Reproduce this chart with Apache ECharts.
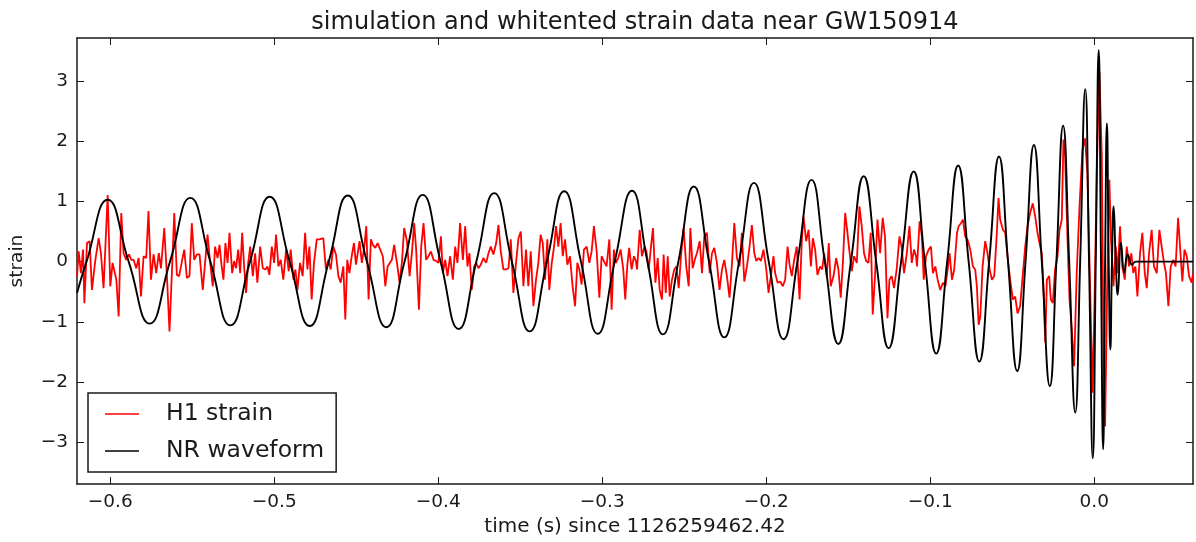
<!DOCTYPE html>
<html>
<head>
<meta charset="utf-8">
<script src="https://cdn.jsdelivr.net/npm/echarts@6/dist/echarts.min.js"></script>
<style>
html,body{margin:0;padding:0;background:#fff;}
#chart{width:1196px;height:542px;}
</style>
</head>
<body>
<div id="chart"></div>
<script>
const titleText = 'simulation and whitented strain data near GW150914';
const xLabel = 'time (s) since 1126259462.42';
const yLabel = 'strain';
const seriesNames = ['H1 strain', 'NR waveform'];
const xTicks = [-0.6, -0.5, -0.4, -0.3, -0.2, -0.1, 0.0];
const yTicks = [-3, -2, -1, 0, 1, 2, 3];

// H1 whitened strain: [time (s), strain]
const h1Strain = [
[-0.6203,-0.25],[-0.6193,0.17],[-0.6179,-0.19],[-0.6166,0.20],[-0.6158,-0.69],[-0.6142,0.31],[-0.6126,0.34],[-0.6112,-0.47],[-0.6091,0.03],[-0.6071,0.39],[-0.6057,0.14],
[-0.6041,-0.44],[-0.6016,1.11],[-0.6000,-0.41],[-0.5986,-0.02],[-0.5974,-0.05],[-0.5963,-0.30],[-0.5949,-0.91],[-0.5933,0.81],[-0.5919,0.14],[-0.5903,0.03],
[-0.5886,0.12],[-0.5872,0.03],[-0.5858,0.03],[-0.5842,-0.11],[-0.5827,0.06],[-0.5813,-0.58],[-0.5797,0.09],[-0.5781,0.06],[-0.5767,0.84],[-0.5752,-0.30],
[-0.5736,0.12],[-0.5720,-0.19],[-0.5704,0.14],[-0.5691,-0.11],[-0.5671,0.56],[-0.5655,-0.22],[-0.5639,-1.16],[-0.5622,-0.02],[-0.5610,0.81],[-0.5594,-0.22],
[-0.5580,-0.24],[-0.5563,0.01],[-0.5549,0.20],[-0.5533,-0.27],[-0.5517,-0.24],[-0.5503,0.64],[-0.5488,0.03],[-0.5472,0.12],[-0.5456,0.12],[-0.5436,-0.47],
[-0.5423,-0.05],[-0.5407,0.45],[-0.5391,-0.02],[-0.5375,-0.41],[-0.5361,0.25],[-0.5346,0.06],[-0.5334,0.28],[-0.5322,-0.05],[-0.5310,-0.30],[-0.5298,0.31],
[-0.5285,-0.02],[-0.5273,0.48],[-0.5257,-0.19],[-0.5245,0.01],[-0.5233,-0.11],[-0.5220,0.20],[-0.5208,-0.19],[-0.5196,0.48],[-0.5184,-0.08],[-0.5172,-0.52],
[-0.5159,-0.02],[-0.5147,0.25],[-0.5131,-0.24],[-0.5117,0.14],[-0.5103,-0.35],[-0.5086,0.25],[-0.5070,-0.11],[-0.5054,-0.13],[-0.5042,-0.08],[-0.5030,-0.22],
[-0.5015,0.25],[-0.5001,-0.02],[-0.4989,0.45],[-0.4975,-0.08],[-0.4961,0.03],[-0.4945,-0.30],[-0.4928,0.20],[-0.4912,-0.16],[-0.4900,0.20],[-0.4883,-0.30],
[-0.4871,-0.13],[-0.4859,-0.47],[-0.4843,-0.02],[-0.4827,-0.24],[-0.4812,0.48],[-0.4798,-0.13],[-0.4786,0.25],[-0.4772,-0.63],[-0.4758,-0.02],[-0.4741,0.37],
[-0.4725,0.37],[-0.4701,0.39],[-0.4685,-0.13],[-0.4670,0.03],[-0.4656,-0.13],[-0.4640,0.25],[-0.4624,0.12],[-0.4609,-0.24],[-0.4595,-0.35],[-0.4579,-0.08],
[-0.4567,-0.96],[-0.4555,0.03],[-0.4542,-0.19],[-0.4528,0.09],[-0.4514,0.31],[-0.4502,-0.05],
[-0.4496,-0.08],[-0.4480,0.34],[-0.4466,-0.02],[-0.4451,0.25],[-0.4439,0.59],[-0.4425,-0.63],[-0.4411,0.37],[-0.4399,0.28],[-0.4384,0.23],[-0.4370,0.31],
[-0.4354,0.20],[-0.4338,0.09],[-0.4323,-0.41],[-0.4309,-0.08],[-0.4297,-0.05],[-0.4283,0.03],[-0.4269,0.28],[-0.4252,-0.02],[-0.4236,-0.35],[-0.4222,-0.02],
[-0.4208,0.56],[-0.4191,0.34],[-0.4175,-0.24],[-0.4161,0.14],[-0.4147,0.64],[-0.4135,0.20],[-0.4118,-0.80],[-0.4104,0.25],[-0.4090,0.64],[-0.4074,0.03],
[-0.4060,0.09],[-0.4045,0.17],[-0.4029,0.03],[-0.4013,0.01],[-0.3999,-0.02],[-0.3984,0.42],[-0.3972,-0.19],[-0.3958,0.03],[-0.3944,-0.24],[-0.3928,0.09],
[-0.3911,-0.30],[-0.3897,0.25],[-0.3883,-0.02],[-0.3867,0.64],[-0.3850,0.03],[-0.3836,0.59],[-0.3822,-0.08],[-0.3810,0.14],[-0.3796,-0.47],[-0.3781,-0.08],
[-0.3769,-0.02],[-0.3755,-0.11],[-0.3741,-0.05],[-0.3725,0.06],[-0.3708,-0.02],[-0.3694,0.14],[-0.3680,0.25],[-0.3664,0.12],[-0.3647,0.31],[-0.3633,0.61],
[-0.3619,0.17],[-0.3603,-0.13],[-0.3587,-0.13],[-0.3572,-0.11],[-0.3558,0.37],[-0.3542,-0.52],[-0.3526,-0.02],[-0.3511,0.39],[-0.3497,0.50],[-0.3481,-0.41],
[-0.3465,0.20],[-0.3451,-0.41],[-0.3436,0.17],[-0.3420,-0.74],[-0.3404,-0.30],[-0.3390,-0.02],[-0.3376,0.45],[-0.3363,0.31],[-0.3349,-0.30],[-0.3335,0.37],
[-0.3323,-0.47],[-0.3308,-0.02],[-0.3294,0.25],[-0.3282,0.59],[-0.3268,0.25],[-0.3254,0.64],[-0.3241,0.09],[-0.3227,0.37],[-0.3213,-0.05],[-0.3197,0.09],
[-0.3181,-0.41],[-0.3166,-0.74],[-0.3152,-0.02],[-0.3140,-0.13],[-0.3126,-0.38],[-0.3112,0.20],[-0.3095,0.25],[-0.3079,-0.02],[-0.3065,0.17],[-0.3051,0.59],
[-0.3034,0.17],[-0.3018,-0.60],[-0.3004,0.09],[-0.2990,0.01],[-0.2974,-0.08],[-0.2957,0.37],[-0.2943,-0.80],[-0.2929,0.20],[-0.2917,-0.02],[-0.2903,0.06],
[-0.2888,0.20],[-0.2872,-0.13],[-0.2860,-0.63],[-0.2848,-0.08],[-0.2836,0.23],[-0.2821,-0.13],[-0.2807,0.09],[-0.2795,0.01],
[-0.2788,-0.13],[-0.2772,0.53],[-0.2758,0.09],[-0.2743,0.25],[-0.2731,0.17],[-0.2717,-0.13],[-0.2703,0.25],[-0.2691,0.56],[-0.2676,-0.35],[-0.2662,0.06],
[-0.2650,-0.47],[-0.2636,-0.63],[-0.2626,0.12],[-0.2613,-0.52],[-0.2601,0.09],[-0.2589,-0.58],[-0.2575,-0.30],[-0.2561,-0.13],[-0.2548,-0.08],[-0.2534,-0.44],
[-0.2520,0.09],[-0.2504,0.56],[-0.2488,-0.08],[-0.2473,-0.41],[-0.2463,0.56],[-0.2449,-0.11],[-0.2433,0.06],[-0.2423,0.14],[-0.2406,0.34],[-0.2392,-0.19],
[-0.2378,0.42],[-0.2362,0.48],[-0.2345,-0.19],[-0.2331,0.14],[-0.2317,0.23],[-0.2301,-0.02],[-0.2285,-0.47],[-0.2270,-0.13],[-0.2256,0.03],[-0.2240,-0.24],
[-0.2224,-0.60],[-0.2209,-0.02],[-0.2195,0.64],[-0.2179,0.06],[-0.2163,-0.08],[-0.2149,0.48],[-0.2134,-0.33],[-0.2118,-0.08],[-0.2102,0.25],[-0.2088,0.61],
[-0.2073,0.14],[-0.2061,0.01],[-0.2047,0.06],[-0.2033,0.01],[-0.2017,0.20],[-0.2000,-0.13],[-0.1986,-0.52],[-0.1972,-0.24],[-0.1956,0.09],[-0.1946,-0.19],
[-0.1931,-0.35],[-0.1915,-0.33],[-0.1899,-0.41],[-0.1885,-0.30],[-0.1870,0.25],[-0.1858,-0.05],[-0.1844,-0.24],[-0.1830,0.03],[-0.1814,0.25],[-0.1797,-0.63],
[-0.1783,0.37],[-0.1773,0.75],[-0.1757,0.34],[-0.1742,0.53],[-0.1728,-0.08],[-0.1716,0.39],[-0.1702,0.20],[-0.1688,-0.22],[-0.1672,-0.08],[-0.1659,-0.13],
[-0.1647,0.14],[-0.1631,-0.24],[-0.1619,0.31],[-0.1607,-0.41],[-0.1590,-0.24],[-0.1574,0.06],[-0.1560,-0.13],[-0.1546,-0.60],[-0.1533,-0.02],[-0.1519,0.81],
[-0.1505,0.48],[-0.1493,0.17],[-0.1479,-0.16],[-0.1465,0.09],[-0.1448,-0.02],[-0.1432,0.92],[-0.1418,0.59],[-0.1404,0.14],[-0.1391,0.01],[-0.1377,-0.02],
[-0.1363,0.48],[-0.1351,-0.88],[-0.1337,-0.24],[-0.1322,0.70],[-0.1306,0.14],[-0.1290,0.73],[-0.1276,0.42],[-0.1261,-0.94],[-0.1249,-0.30],[-0.1235,-0.24],
[-0.1221,-0.44],[-0.1205,-0.13],[-0.1188,0.42],[-0.1174,0.23],[-0.1160,-0.19],[-0.1144,0.12],[-0.1127,0.59],[-0.1113,-0.02],[-0.1099,0.20],[-0.1087,0.09],
[-0.1081,-0.08],[-0.1065,0.67],[-0.1051,0.42],[-0.1040,-0.30],[-0.1026,0.09],[-0.1010,0.20],[-0.0996,0.25],[-0.0984,-0.19],[-0.0969,-0.08],[-0.0955,-0.30],
[-0.0939,-0.47],[-0.0923,-0.35],[-0.0908,-0.41],[-0.0894,-0.13],[-0.0882,0.14],[-0.0868,-0.30],[-0.0854,-0.13],[-0.0837,0.48],[-0.0827,0.59],[-0.0813,0.64],
[-0.0801,0.70],[-0.0787,0.42],[-0.0772,0.36],[-0.0756,0.20],[-0.0740,-0.08],[-0.0726,-0.13],[-0.0716,-0.41],[-0.0705,-1.05],[-0.0695,-0.91],[-0.0681,-0.08],
[-0.0665,0.34],[-0.0651,0.14],[-0.0638,-0.13],[-0.0624,-0.30],[-0.0610,-0.24],[-0.0594,0.48],[-0.0584,1.06],[-0.0574,0.70],[-0.0557,0.53],[-0.0543,0.48],
[-0.0529,0.09],[-0.0513,-0.30],[-0.0496,-0.63],[-0.0482,-0.58],[-0.0468,-0.86],[-0.0452,-0.74],[-0.0435,-0.19],[-0.0421,0.25],[-0.0407,0.59],[-0.0391,0.81],
[-0.0375,0.97],[-0.0360,0.75],[-0.0346,0.48],[-0.0330,0.25],[-0.0320,0.14],[-0.0310,-0.41],[-0.0299,-1.35],[-0.0289,-0.30],[-0.0275,-0.24],[-0.0265,-0.63],
[-0.0253,-0.69],[-0.0239,-0.13],[-0.0224,0.09],[-0.0212,0.53],[-0.0198,0.70],[-0.0188,2.03],[-0.0178,1.75],[-0.0163,0.36],[-0.0151,-0.63],[-0.0137,-1.13],
[-0.0123,-1.74],[-0.0107,-0.19],[-0.0090,0.92],[-0.0072,1.86],[-0.0056,2.05],[-0.0042,1.47],[-0.0025,-0.47],[-0.0011,-2.18],[0.0001,-0.75],[0.0015,1.47],
[0.0031,3.16],[0.0046,1.75],[0.0056,-1.30],[0.0066,-2.74],[0.0080,-0.19],[0.0092,1.36],[0.0102,0.36],[0.0117,-0.41],[0.0131,0.25],[0.0143,-0.19],
[0.0157,0.59],[0.0171,-0.08],[0.0186,-0.30],[0.0198,0.25],[0.0212,-0.08],[0.0226,0.14],[0.0238,-0.19],[0.0251,-0.08],[0.0263,-0.58],[0.0279,0.14],
[0.0293,0.48],[0.0308,-0.19],[0.0320,-0.44],[0.0334,0.14],[0.0350,0.53],[0.0364,-0.08],[0.0381,-0.19],[0.0397,0.53],[0.0411,0.25],[0.0425,-0.02],
[0.0437,-0.19],[0.0452,-0.74],[0.0466,-0.08],[0.0482,0.03],[0.0496,-0.08],[0.0511,0.73],[0.0523,0.25],[0.0537,-0.33],[0.0550,0.20],[0.0564,0.09],
[0.0578,-0.24],[0.0594,-0.35],[0.0602,-0.20]
];

// Numerical-relativity waveform: [time (s), strain] at extrema and zero crossings
const nrWaveform = [
[-0.6203,-0.52],[-0.6145,0],[-0.6016,1.03],[-0.5888,0],[-0.5760,-1.03],[-0.5636,0],[-0.5512,1.06],[-0.5390,0],
[-0.5268,-1.06],[-0.5148,0],[-0.5028,1.08],[-0.4906,0],[-0.4784,-1.07],[-0.4668,0],[-0.4552,1.10],[-0.4435,0],
[-0.4317,-1.09],[-0.4206,0],[-0.4095,1.11],[-0.3986,0],[-0.3876,-1.12],[-0.3768,0],[-0.3659,1.14],[-0.3551,0],
[-0.3443,-1.16],[-0.3338,0],[-0.3232,1.17],[-0.3130,0],[-0.3028,-1.20],[-0.2924,0],[-0.2819,1.18],[-0.2725,0],
[-0.2630,-1.21],[-0.2536,0],[-0.2442,1.25],[-0.2349,0],[-0.2256,-1.26],[-0.2166,0],[-0.2075,1.31],[-0.1985,0],
[-0.1895,-1.29],[-0.1810,0],[-0.1724,1.36],[-0.1643,0],[-0.1561,-1.37],[-0.1484,0],[-0.1406,1.42],[-0.1330,0],
[-0.1254,-1.44],[-0.1178,0],[-0.1101,1.50],[-0.1033,0],[-0.0964,-1.53],[-0.0897,0],[-0.0830,1.60],[-0.0766,0],
[-0.0701,-1.66],[-0.0641,0],[-0.0581,1.75],[-0.0526,0],[-0.0470,-1.82],[-0.0419,0],[-0.0368,1.94],[-0.0320,0],
[-0.0271,-2.07],[-0.0231,0],[-0.0190,2.26],[-0.0153,0],[-0.0116,-2.51],[-0.0086,0],[-0.0055,2.87],[-0.0032,0],
[-0.0009,-3.27],[0.0009,0],[0.0027,3.52],[0.0041,0],[0.0054,-3.12],[0.0066,0],[0.0077,2.30],[0.0088,0],
[0.0098,-1.46],[0.0108,0],[0.0118,0.92],[0.0131,0],[0.0143,-0.55],[0.0163,0.31],[0.0183,-0.18],[0.0204,0.12],
[0.0230,-0.05],[0.0254,0],[0.0602,0]
];

const FONT = 'DejaVu Sans';
const INK = '#1a1a1a';
const xFmt = v => (v < -1e-9 ? '\u2212' : '') + Math.abs(v).toFixed(1);
const yFmt = v => (v < 0 ? '\u2212' : '') + Math.abs(Math.round(v));

const chart = echarts.init(document.getElementById('chart'), null, {renderer: 'canvas'});

const tickCommon = {show: true, inside: true, length: 7, lineStyle: {color: INK, width: 1}};
const lineCommon = {show: true, onZero: false, lineStyle: {color: INK, width: 1.5}};

chart.setOption({
  animation: false,
  backgroundColor: '#fff',
  title: {
    text: titleText,
    left: 630,
    textAlign: 'center',
    top: 6,
    textStyle: {fontFamily: FONT, fontSize: 24, fontWeight: 'normal', color: INK}
  },
  grid: {left: 77, right: 3, top: 38, bottom: 57, containLabel: false},
  legend: {
    data: seriesNames,
    orient: 'vertical',
    left: 88,
    top: 393,
    icon: 'rect',
    itemWidth: 34,
    itemHeight: 1.6,
    itemGap: 11,
    padding: [8, 12, 8, 17],
    borderColor: INK,
    borderWidth: 1.5,
    backgroundColor: '#fff',
    textStyle: {fontFamily: FONT, fontSize: 23.5, color: INK, lineHeight: 26, padding: [0, 0, 0, 22]}
  },
  xAxis: [
    {
      type: 'value', position: 'bottom', min: -0.6203, max: 0.0602,
      name: xLabel, nameLocation: 'middle', nameGap: 32,
      nameTextStyle: {fontFamily: FONT, fontSize: 20, color: INK},
      axisLine: lineCommon,
      axisTick: Object.assign({customValues: xTicks}, tickCommon),
      axisLabel: {customValues: xTicks, formatter: xFmt, margin: 9, fontFamily: FONT, fontSize: 18.5, color: INK},
      splitLine: {show: false}
    },
    {
      type: 'value', position: 'top', min: -0.6203, max: 0.0602,
      axisLine: lineCommon,
      axisTick: Object.assign({customValues: xTicks}, tickCommon),
      axisLabel: {show: false},
      splitLine: {show: false}
    }
  ],
  yAxis: [
    {
      type: 'value', position: 'left', min: -3.7, max: 3.72,
      name: yLabel, nameLocation: 'middle', nameGap: 50,
      nameTextStyle: {fontFamily: FONT, fontSize: 18.5, color: INK},
      axisLine: lineCommon,
      axisTick: Object.assign({customValues: yTicks}, tickCommon),
      axisLabel: {customValues: yTicks, formatter: yFmt, margin: 9, fontFamily: FONT, fontSize: 18.5, color: INK},
      splitLine: {show: false}
    },
    {
      type: 'value', position: 'right', min: -3.7, max: 3.72,
      axisLine: lineCommon,
      axisTick: Object.assign({customValues: yTicks}, tickCommon),
      axisLabel: {show: false},
      splitLine: {show: false}
    }
  ],
  series: [
    {
      name: seriesNames[0], type: 'line', xAxisIndex: 0, yAxisIndex: 0,
      data: h1Strain, symbol: 'none', showSymbol: false, smooth: false,
      lineStyle: {color: '#ff0000', width: 1.8},
      itemStyle: {color: '#ff0000'}
    },
    {
      name: seriesNames[1], type: 'line', xAxisIndex: 0, yAxisIndex: 0,
      data: nrWaveform, symbol: 'none', showSymbol: false, smooth: 0.5,
      lineStyle: {color: '#000000', width: 1.9},
      itemStyle: {color: '#000000'}
    }
  ]
});
</script>
</body>
</html>
